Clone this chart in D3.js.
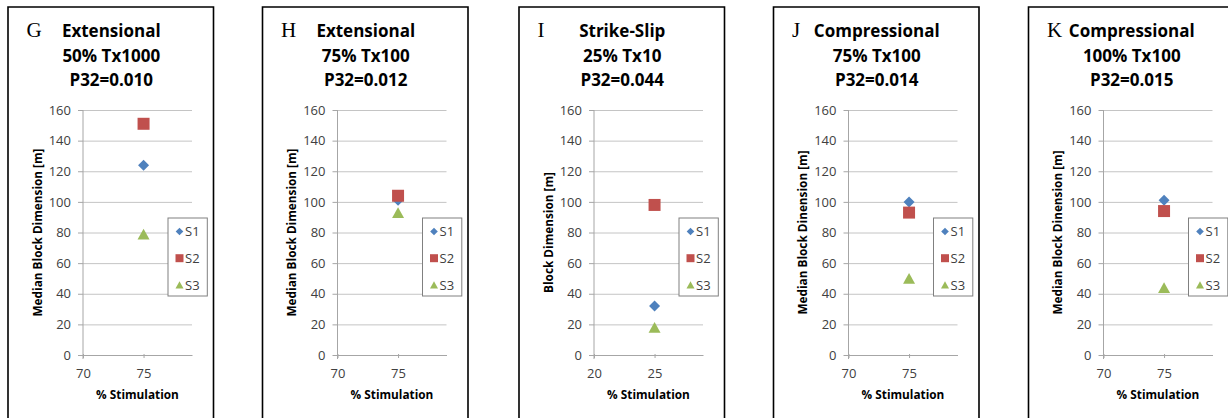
<!DOCTYPE html>
<html>
<head>
<meta charset="utf-8">
<script src="https://cdn.jsdelivr.net/npm/d3@7"></script>
<style>
  body { margin: 0; background: #fff; }
  svg { display: block; }
  .tick text { font-family: "Open Sans", sans-serif; fill: #404040; }
</style>
</head>
<body>
<div id="chart"></div>
<script>
// panel data
var letters = ["G", "H", "I", "J", "K"];
var titleLine1 = ["Extensional", "Extensional", "Strike-Slip", "Compressional", "Compressional"];
var titleLine2 = ["50% Tx1000", "75% Tx100", "25% Tx10", "75% Tx100", "100% Tx100"];
var titleLine3 = ["P32=0.010", "P32=0.012", "P32=0.044", "P32=0.014", "P32=0.015"];
var yTitles = ["Median Block Dimension [m]", "Median Block Dimension [m]", "Block Dimension [m]",
               "Median Block Dinension [m]", "Median Block Dinension [m]"];
var xTitle = "% Stimulation";
var stimulation = [75, 75, 25, 75, 75];
var xMin = [70, 70, 20, 70, 70];
var xMax = [79, 79, 29, 79, 79];
var xTicks = [[70, 75], [70, 75], [20, 25], [70, 75], [70, 75]];
var yTicks = [0, 20, 40, 60, 80, 100, 120, 140, 160];
var seriesNames = ["S1", "S2", "S3"];
var s1Values = [124, 101, 32, 100, 101];
var s2Values = [151, 104, 98, 93, 94];
var s3Values = [79, 93, 18, 50, 44];

var colors = ["#4f81bd", "#c0504d", "#9bbb59"];
var frameLefts = [8, 262.5, 519, 773.5, 1028.5];

var W = 1228, H = 418;
var svg = d3.select("#chart").append("svg").attr("width", W).attr("height", H);

// marker shapes, centred on 0,0
function markerPath(kind, s) {
    if (kind == 0) return "M0," + (-s) + "L" + s + ",0L0," + s + "L" + (-s) + ",0Z";
    if (kind == 1) return "M" + (-s) + "," + (-s) + "H" + s + "V" + s + "H" + (-s) + "Z";
    return "M0," + (-s * 0.9) + "L" + s + "," + (s * 0.9) + "L" + (-s) + "," + (s * 0.9) + "Z";
}
var plotSize = [5.5, 6, 6];
var legendSize = [3.8, 4, 4];

letters.forEach(function (letter, i) {
    var fl = frameLefts[i], fw = 205.5;
    var g = svg.append("g");

    // frame (no bottom edge, it is cut off)
    g.append("path")
        .attr("d", "M" + fl + "," + (H + 2) + "V7H" + (fl + fw) + "V" + (H + 2))
        .attr("fill", "none").attr("stroke", "#000").attr("stroke-width", 1.6);

    var left = fl + 75, right = left + 109, top = 110, bottom = 355;
    var x = d3.scaleLinear().domain([xMin[i], xMax[i]]).range([left, right]);
    var y = d3.scaleLinear().domain([0, 160]).range([bottom, top]);

    // gridlines
    g.append("g").attr("transform", "translate(" + left + ",0)")
        .call(d3.axisLeft(y).tickValues(yTicks).tickSize(-(right - left)).tickFormat(""))
        .call(function (a) {
            a.select(".domain").remove();
            a.selectAll("line").attr("stroke", "#c4c4c4");
        });

    // y axis with outward ticks
    g.append("g").attr("transform", "translate(" + left + ",0)")
        .call(d3.axisLeft(y).tickValues(yTicks).tickSize(5).tickSizeOuter(0).tickPadding(7))
        .call(function (a) {
            a.select(".domain").attr("stroke", "#a6a6a6").attr("d", "M0," + top + "V" + (bottom + 4));
            a.selectAll("line").attr("stroke", "#a6a6a6");
            a.selectAll("text").attr("font-size", 13);
        });

    // x axis
    g.append("g").attr("transform", "translate(0," + bottom + ")")
        .call(d3.axisBottom(x).tickValues(xTicks[i]).tickSize(0).tickSizeOuter(0).tickPadding(13.5))
        .call(function (a) {
            a.select(".domain").attr("stroke", "#a6a6a6");
            a.selectAll("line").attr("stroke", "#a6a6a6").attr("y1", -1).attr("y2", 3);
            a.selectAll("text").attr("font-size", 13);
        });

    // axis titles
    g.append("text").attr("x", (left + right) / 2).attr("y", 399)
        .attr("text-anchor", "middle").attr("font-family", "Open Sans, sans-serif")
        .attr("font-weight", "bold").attr("font-size", 11.8).attr("fill", "#000")
        .text(xTitle);
    g.append("text")
        .attr("transform", "translate(" + (fl + 33.5) + "," + ((top + bottom) / 2) + ")rotate(-90)")
        .attr("text-anchor", "middle").attr("font-family", "Open Sans, sans-serif")
        .attr("font-weight", "bold").attr("font-size", 11.8).attr("fill", "#000")
        .text(yTitles[i]);

    // panel letter + chart title
    g.append("text").attr("x", fl + 18.5).attr("y", 37)
        .attr("font-family", "Liberation Serif, serif").attr("font-size", 21)
        .text(letter);
    var cx = fl + fw / 2 + 0.5;
    [titleLine1[i], titleLine2[i], titleLine3[i]].forEach(function (t, k) {
        g.append("text").attr("x", cx).attr("y", 37 + k * 24.5)
            .attr("text-anchor", "middle").attr("font-family", "Open Sans, sans-serif")
            .attr("font-weight", "bold").attr("font-size", 17)
            .text(t);
    });

    // points
    var vals = [s1Values[i], s2Values[i], s3Values[i]];
    vals.forEach(function (v, k) {
        g.append("path")
            .attr("d", markerPath(k, plotSize[k]))
            .attr("transform", "translate(" + x(stimulation[i]) + "," + y(v) + ")")
            .attr("fill", colors[k]);
    });

    // legend
    var lx = fl + 160, ly = 218;
    g.append("rect").attr("x", lx).attr("y", ly).attr("width", 39.3).attr("height", 78)
        .attr("fill", "#fff").attr("stroke", "#808080").attr("stroke-width", 1);
    seriesNames.forEach(function (name, k) {
        var ry = ly + 13.5 + k * 26.7;
        g.append("path").attr("d", markerPath(k, legendSize[k]))
            .attr("transform", "translate(" + (lx + 11.5) + "," + ry + ")")
            .attr("fill", colors[k]);
        g.append("text").attr("x", lx + 17).attr("y", ry).attr("dy", "0.36em")
            .attr("font-family", "Open Sans, sans-serif").attr("font-size", 13).attr("fill", "#404040")
            .text(name);
    });
});
</script>
</body>
</html>
